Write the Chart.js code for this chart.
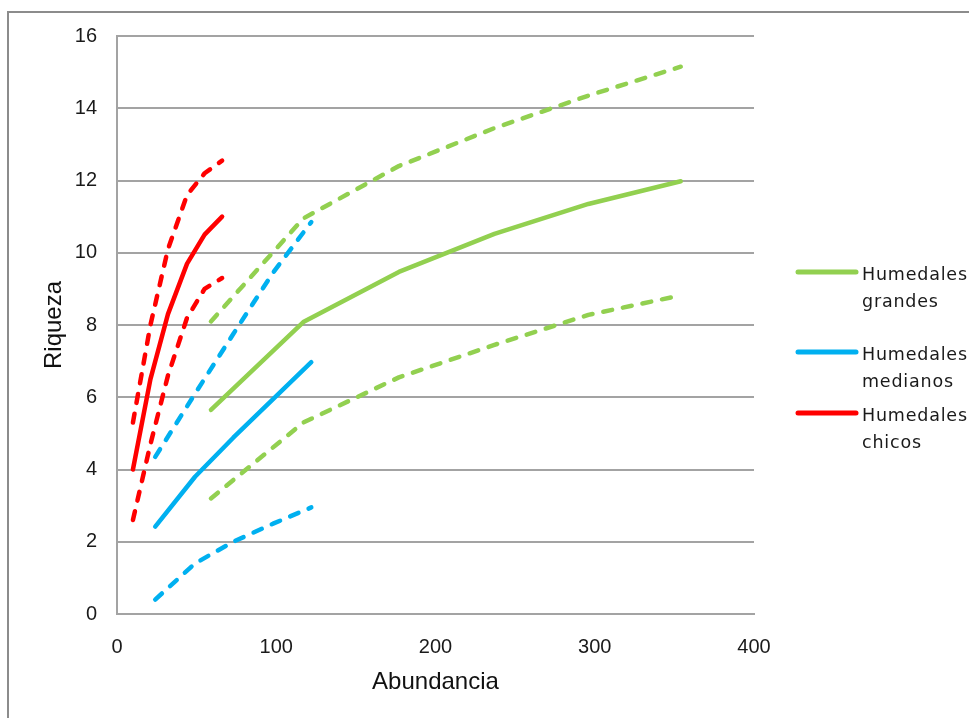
<!DOCTYPE html>
<html>
<head>
<meta charset="utf-8">
<title>Riqueza vs Abundancia</title>
<script src="https://cdn.jsdelivr.net/npm/chart.js@4.4.1/dist/chart.umd.min.js"></script>
<style>
  html, body { margin: 0; padding: 0; background: #fff; }
  #wrap { width: 969px; height: 718px; position: relative; }
</style>
</head>
<body>
<div id="wrap"><canvas id="curvas"></canvas></div>
<script>
// abundancia (eje x) de cada grupo de humedales
const grandesX = [59, 117, 177, 237, 296, 354];
const medianosX = [24, 49, 73, 98, 122];
const chicosX = [10, 21, 32, 44, 55, 66];

// riqueza estimada y sus limites (linea punteada)
const grandesRiq = [5.65, 8.08, 9.47, 10.52, 11.35, 11.98];
const grandesSup = [8.1, 10.95, 12.4, 13.45, 14.35, 15.15];
const grandesInf = [3.2, 5.3, 6.55, 7.45, 8.28, 8.82];

const medianosRiq = [2.42, 3.8, 4.88, 5.95, 6.97];
const medianosSup = [4.35, 6.1, 7.75, 9.45, 10.85];
const medianosInf = [0.4, 1.4, 2.0, 2.5, 2.95];

const chicosRiq = [4.0, 6.5, 8.3, 9.7, 10.5, 11.0];
const chicosSup = [5.3, 8.0, 10.1, 11.6, 12.2, 12.55];
const chicosInf = [2.6, 4.7, 6.6, 8.2, 9.0, 9.3];

const xTicks = [0, 100, 200, 300, 400];
const yTicks = [0, 2, 4, 6, 8, 10, 12, 14, 16];

const leyendas = [['Humedales', 'grandes'], ['Humedales', 'medianos'], ['Humedales', 'chicos']];

const verde = '#92D050';
const azul = '#00B0F0';
const rojo = '#FF0000';
const gris = '#a3a3a3';

function puntos(xs, ys) {
    return xs.map((x, i) => ({ x: x, y: ys[i] }));
}

function serie(label, xs, ys, color, punteada) {
    return {
        label: label,
        data: puntos(xs, ys),
        borderColor: color,
        backgroundColor: color,
        borderWidth: 4.5,
        borderDash: punteada ? [9, 11] : [],
        borderCapStyle: 'round',
        borderJoinStyle: 'round',
        pointRadius: 0,
        showLine: true,
        tension: 0,
        esLeyenda: !punteada,
    };
}

// marco gris arriba y a la izquierda
const marco = {
    id: 'marco',
    beforeDraw(chart) {
        const ctx = chart.ctx;
        ctx.save();
        ctx.strokeStyle = '#8c8c8c';
        ctx.lineWidth = 2;
        ctx.beginPath();
        ctx.moveTo(969, 12);
        ctx.lineTo(8, 12);
        ctx.lineTo(8, 718);
        ctx.stroke();
        ctx.restore();
    }
};

// leyenda a la derecha, texto en dos renglones
const leyenda = {
    id: 'leyendaDerecha',
    afterDraw(chart) {
        const ctx = chart.ctx;
        const filas = [272, 352, 413];
        const items = chart.data.datasets.filter(d => d.esLeyenda);
        ctx.save();
        ctx.font = '17.5px "DejaVu Sans"';
        ctx.letterSpacing = '0.8px';
        ctx.textBaseline = 'middle';
        ctx.fillStyle = '#1a1a1a';
        items.forEach((ds, i) => {
            const y = filas[i];
            ctx.strokeStyle = ds.borderColor;
            ctx.lineWidth = 5;
            ctx.lineCap = 'round';
            ctx.beginPath();
            ctx.moveTo(798, y);
            ctx.lineTo(856, y);
            ctx.stroke();
            leyendas[i].forEach((t, j) => {
                ctx.fillText(t, 862, y + 3 + j * 27);
            });
        });
        ctx.restore();
    }
};

const data = {
    datasets: [
        serie('Humedales grandes', grandesX, grandesRiq, verde, false),
        serie('Humedales grandes sup.', grandesX, grandesSup, verde, true),
        serie('Humedales grandes inf.', grandesX, grandesInf, verde, true),
        serie('Humedales medianos', medianosX, medianosRiq, azul, false),
        serie('Humedales medianos sup.', medianosX, medianosSup, azul, true),
        serie('Humedales medianos inf.', medianosX, medianosInf, azul, true),
        serie('Humedales chicos', chicosX, chicosRiq, rojo, false),
        serie('Humedales chicos sup.', chicosX, chicosSup, rojo, true),
        serie('Humedales chicos inf.', chicosX, chicosInf, rojo, true),
    ]
};

const config = {
    type: 'scatter',
    data: data,
    options: {
        responsive: true,
        maintainAspectRatio: false,
        animation: false,
        layout: {
            padding: { top: 36, right: 215, bottom: 0, left: 0 }
        },
        plugins: {
            legend: { display: false },
            tooltip: { enabled: false },
        },
        scales: {
            x: {
                type: 'linear',
                min: xTicks[0],
                max: xTicks[xTicks.length - 1],
                afterBuildTicks(scale) {
                    scale.ticks = xTicks.map(v => ({ value: v }));
                },
                afterFit(scale) {
                    scale.height = 104;
                },
                grid: { display: false, drawTicks: false },
                border: { display: true, color: gris, width: 2 },
                ticks: {
                    padding: 21,
                    color: '#1a1a1a',
                    font: { family: '"Liberation Sans", Arial', size: 20 },
                },
                title: {
                    display: true,
                    text: 'Abundancia',
                    color: '#111',
                    font: { family: '"Liberation Sans", Arial', size: 24 },
                    padding: { top: 0, bottom: 21 },
                },
            },
            y: {
                type: 'linear',
                min: yTicks[0],
                max: yTicks[yTicks.length - 1],
                afterBuildTicks(scale) {
                    scale.ticks = yTicks.map(v => ({ value: v }));
                },
                afterFit(scale) {
                    scale.width = 117;
                },
                grid: { color: gris, lineWidth: 2, drawTicks: false },
                border: { display: true, color: gris, width: 2 },
                ticks: {
                    padding: 20,
                    color: '#1a1a1a',
                    font: { family: '"Liberation Sans", Arial', size: 20 },
                },
                title: {
                    display: true,
                    text: 'Riqueza',
                    color: '#111',
                    font: { family: '"Liberation Sans", Arial', size: 24 },
                    padding: { top: 40, bottom: 0 },
                },
            },
        },
    },
    plugins: [marco, leyenda],
};

const ctx = document.getElementById('curvas').getContext('2d');
const grafica = new Chart(ctx, config);
</script>
</body>
</html>
